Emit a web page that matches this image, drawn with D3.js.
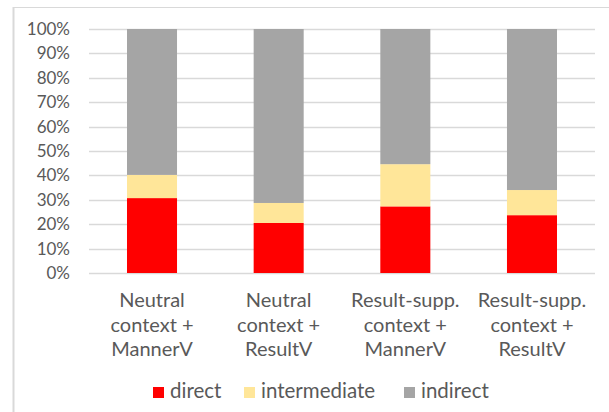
<!DOCTYPE html>
<html>
<head>
<meta charset="utf-8">
<script src="https://cdn.jsdelivr.net/npm/d3@7"></script>
<style>
  html, body { margin: 0; padding: 0; background: #fff; }
  svg { display: block; }
  text { font-family: Lato, "Open Sans", sans-serif; fill: #595959; }
</style>
</head>
<body>
<script>
// ---- data ----
const categories = [
  ["Neutral", "context +", "MannerV"],
  ["Neutral", "context +", "ResultV"],
  ["Result-supp.", "context +", "MannerV"],
  ["Result-supp.", "context +", "ResultV"]
];
const seriesNames = ["direct", "intermediate", "indirect"];
const direct = [30.7, 20.5, 27.3, 23.7];
const intermediate = [9.5, 8.2, 17.3, 10.3];
const indirect = [59.8, 71.3, 55.4, 66.0];
const yTicks = [0, 10, 20, 30, 40, 50, 60, 70, 80, 90, 100];
const colors = ["#FF0000", "#FFE699", "#A5A5A5"];

// ---- layout ----
const W = 609, H = 412;
const margin = { left: 89, right: 14, top: 29, bottom: 139 };

const svg = d3.select("body").append("svg").attr("width", W).attr("height", H);

// chart border
svg.append("line").attr("x1", 13).attr("x2", W).attr("y1", 7.5).attr("y2", 7.5)
  .attr("stroke", "#D9D9D9").attr("stroke-width", 1);
svg.append("line").attr("x1", 13.5).attr("x2", 13.5).attr("y1", 7).attr("y2", H)
  .attr("stroke", "#D9D9D9").attr("stroke-width", 2);

const keys = categories.map((c, i) => i);
const x = d3.scaleBand().domain(keys)
  .range([margin.left, W - margin.right]).paddingInner(0.605).paddingOuter(0.3);
const y = d3.scaleLinear().domain([0, 100]).range([H - margin.bottom, margin.top]);

// grid
const grid = svg.append("g");
grid.selectAll("line").data(yTicks).join("line")
  .attr("x1", margin.left).attr("x2", W - margin.right)
  .attr("y1", d => Math.round(y(d)) + 0.5).attr("y2", d => Math.round(y(d)) + 0.5)
  .attr("stroke", "#D9D9D9").attr("stroke-width", 1.5);

// y labels
const yAxis = d3.axisLeft(y).tickValues(yTicks).tickFormat(d => d + "%").tickSize(0).tickPadding(0);
const ya = svg.append("g").attr("transform", `translate(70,0)`).call(yAxis);
ya.select(".domain").remove();
ya.selectAll("text").style("font-size", "17px").attr("fill", "#595959")
  .style("font-family", "Lato, 'Open Sans', sans-serif");

// stacked data
const rows = keys.map(i => ({ i, direct: direct[i], intermediate: intermediate[i], indirect: indirect[i] }));
const stack = d3.stack().keys(seriesNames)(rows);

svg.append("g").selectAll("g").data(stack).join("g")
  .attr("fill", (d, k) => colors[k])
  .selectAll("rect").data(d => d).join("rect")
  .attr("x", d => x(d.data.i))
  .attr("width", x.bandwidth())
  .attr("y", d => y(d[1]))
  .attr("height", d => y(d[0]) - y(d[1]));

// x labels
const xl = svg.append("g");
categories.forEach((lines, i) => {
  const t = xl.append("text")
    .attr("x", x(i) + x.bandwidth() / 2)
    .attr("y", 307)
    .attr("text-anchor", "middle")
    .style("font-size", "20px");
  lines.forEach((ln, j) => {
    t.append("tspan").attr("x", x(i) + x.bandwidth() / 2).attr("dy", j === 0 ? 0 : 24.7).text(ln);
  });
});

// legend
const legendPos = [153, 244, 404];
const lg = svg.append("g");
seriesNames.forEach((n, k) => {
  lg.append("rect").attr("x", legendPos[k]).attr("y", 387).attr("width", 11).attr("height", 11)
    .attr("fill", colors[k]);
  lg.append("text").attr("x", legendPos[k] + 17).attr("y", 398)
    .style("font-size", "20.5px").text(n);
});
</script>
</body>
</html>
